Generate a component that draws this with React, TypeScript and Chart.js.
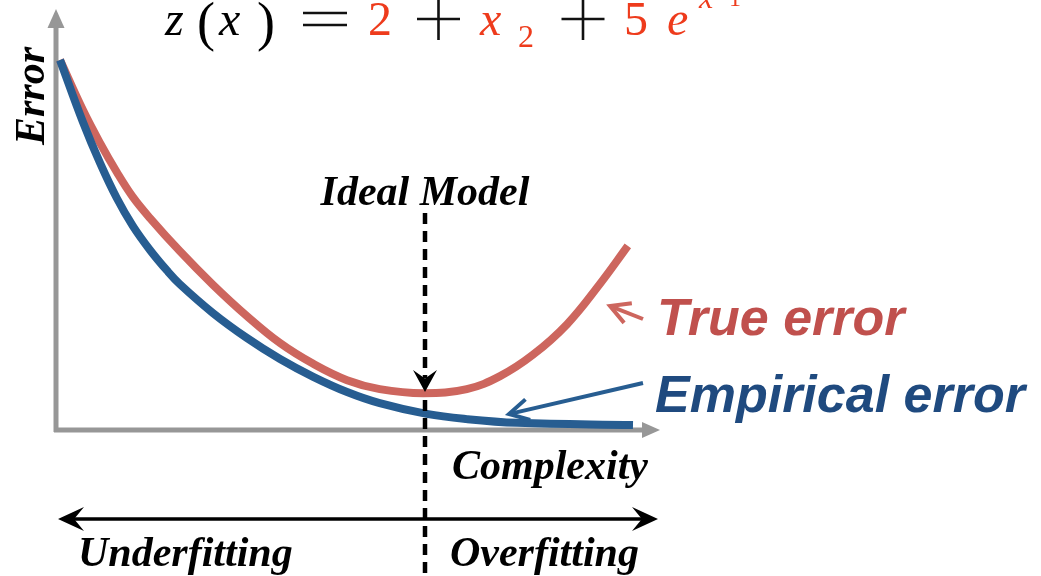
import { useEffect, useRef } from 'react';
import { Chart, registerables } from 'chart.js';

Chart.register(...registerables);

// Complexity (x) and error (y) readings, in arbitrary 0..10 units
const complexityTrue = [0, 0.4, 0.7, 0.99, 1.27, 1.57, 2.09, 2.67, 3.26, 3.84, 4.42, 5.01, 5.58, 6.34, 7.1, 7.68, 8.25, 8.85, 9.42, 9.91];
const trueError = [10, 8.65, 7.76, 6.98, 6.31, 5.74, 4.85, 3.94, 3.1, 2.37, 1.81, 1.37, 1.13, 1.02, 1.13, 1.48, 2.05, 2.88, 3.96, 4.99];
const complexityEmpirical = [0, 0.4, 0.7, 0.99, 1.27, 1.57, 1.87, 2.09, 2.67, 3.26, 3.84, 4.42, 5.01, 5.58, 6.4, 7.1, 7.98, 10];
const empiricalError = [10, 8.33, 7.22, 6.28, 5.53, 4.88, 4.32, 3.96, 3.18, 2.51, 1.94, 1.46, 1.05, 0.75, 0.46, 0.32, 0.22, 0.16];

const idealComplexity = 6.37;
const idealError = 1.05;

const seriesLabels = ['True error', 'Empirical error'];
const axisLabels = { x: 'Complexity', y: 'Error' };
const regionLabels = ['Underfitting', 'Overfitting'];
const idealLabel = 'Ideal Model';

const RED_LINE = '#CD665E';
const BLUE_LINE = '#275D91';
const RED_TEXT = '#C0504D';
const BLUE_TEXT = '#1F4A7F';
const GRAY = '#979797';
const FORMULA_RED = '#EE3B1C';

function stealth(ctx: CanvasRenderingContext2D, x: number, y: number, angle: number, len: number, half: number, color: string) {
  ctx.save();
  ctx.translate(x, y);
  ctx.rotate(angle);
  ctx.beginPath();
  ctx.moveTo(0, 0);
  ctx.lineTo(-len, -half);
  ctx.lineTo(-len * 0.62, 0);
  ctx.lineTo(-len, half);
  ctx.closePath();
  ctx.fillStyle = color;
  ctx.fill();
  ctx.restore();
}

function triangle(ctx: CanvasRenderingContext2D, x: number, y: number, angle: number, len: number, half: number, color: string) {
  ctx.save();
  ctx.translate(x, y);
  ctx.rotate(angle);
  ctx.beginPath();
  ctx.moveTo(0, 0);
  ctx.lineTo(-len, -half);
  ctx.lineTo(-len, half);
  ctx.closePath();
  ctx.fillStyle = color;
  ctx.fill();
  ctx.restore();
}

function openArrow(ctx: CanvasRenderingContext2D, x1: number, y1: number, x2: number, y2: number, color: string, width: number) {
  const a = Math.atan2(y2 - y1, x2 - x1);
  ctx.save();
  ctx.strokeStyle = color;
  ctx.lineWidth = width;
  ctx.lineCap = 'butt';
  ctx.beginPath();
  ctx.moveTo(x1, y1);
  ctx.lineTo(x2 - Math.cos(a) * 3, y2 - Math.sin(a) * 3);
  ctx.stroke();
  const len = 22;
  const spread = 0.5;
  ctx.beginPath();
  ctx.moveTo(x2 - Math.cos(a - spread) * len, y2 - Math.sin(a - spread) * len);
  ctx.lineTo(x2, y2);
  ctx.lineTo(x2 - Math.cos(a + spread) * len, y2 - Math.sin(a + spread) * len);
  ctx.lineJoin = 'miter';
  ctx.stroke();
  ctx.restore();
}

const axesPlugin = {
  id: 'conceptAxes',
  beforeDatasetsDraw(chart: any) {
    const ctx: CanvasRenderingContext2D = chart.ctx;
    const { left, right, top, bottom } = chart.chartArea;
    const ox = left - 4;
    const oy = bottom - 1;
    ctx.save();
    ctx.strokeStyle = GRAY;
    ctx.lineWidth = 5;
    ctx.beginPath();
    ctx.moveTo(ox, oy + 2);
    ctx.lineTo(ox, top - 34);
    ctx.stroke();
    ctx.beginPath();
    ctx.moveTo(ox - 2, oy);
    ctx.lineTo(right + 12, oy);
    ctx.stroke();
    triangle(ctx, ox, top - 51, -Math.PI / 2, 19, 8.5, GRAY);
    triangle(ctx, right + 27, oy, 0, 18, 8, GRAY);
    ctx.restore();
  },
  afterDatasetsDraw(chart: any) {
    const ctx: CanvasRenderingContext2D = chart.ctx;
    const xs = chart.scales.x;
    const ys = chart.scales.y;
    const { left, right, bottom } = chart.chartArea;
    const ix = xs.getPixelForValue(idealComplexity);
    const iy = ys.getPixelForValue(idealError);
    ctx.save();

    // dashed ideal line
    ctx.strokeStyle = '#000';
    ctx.lineWidth = 4.5;
    ctx.setLineDash([11, 7]);
    ctx.beginPath();
    ctx.moveTo(ix, 213);
    ctx.lineTo(ix, iy - 14);
    ctx.stroke();
    ctx.beginPath();
    ctx.moveTo(ix, iy + 8);
    ctx.lineTo(ix, chart.height);
    ctx.stroke();
    ctx.setLineDash([]);
    stealth(ctx, ix, iy, Math.PI / 2, 22, 12, '#000');

    // double arrow under the axis
    const ay = bottom + 88;
    ctx.lineWidth = 3.5;
    ctx.beginPath();
    ctx.moveTo(left + 10, ay);
    ctx.lineTo(right + 14, ay);
    ctx.stroke();
    stealth(ctx, left - 2, ay, Math.PI, 26, 12, '#000');
    stealth(ctx, right + 25, ay, 0, 26, 12, '#000');

    // pointer arrows
    openArrow(ctx, 643, 319, 610, 306, RED_LINE, 4);
    openArrow(ctx, 643, 383, 509, 414, BLUE_LINE, 4);

    // texts
    ctx.fillStyle = '#000';
    ctx.textBaseline = 'alphabetic';
    ctx.font = 'bold italic 42px "Liberation Serif", "Times New Roman", serif';
    ctx.textAlign = 'center';
    ctx.fillText(idealLabel, ix, 205);
    ctx.textAlign = 'left';
    ctx.fillText(axisLabels.x, 452, 479);
    ctx.fillText(regionLabels[0], 78, 566);
    ctx.fillText(regionLabels[1], 450, 566);
    ctx.save();
    ctx.translate(44, 96);
    ctx.rotate(-Math.PI / 2);
    ctx.textAlign = 'center';
    ctx.fillText(axisLabels.y, 0, 0);
    ctx.restore();

    ctx.font = 'bold italic 52px "Liberation Sans", Arial, sans-serif';
    ctx.fillStyle = RED_TEXT;
    ctx.fillText(seriesLabels[0], 657, 335);
    ctx.fillStyle = BLUE_TEXT;
    ctx.fillText(seriesLabels[1], 655, 412);

    // formula (cut off at the top of the picture)
    const serif = '"Liberation Serif", "Times New Roman", serif';
    const pieces: [string, number, number, string, string][] = [
      ['z', 165, 35, '#000', `italic 48px ${serif}`],
      ['(', 197, 40, '#000', `54px ${serif}`],
      ['x', 219, 35, '#000', `italic 48px ${serif}`],
      [')', 257, 40, '#000', `54px ${serif}`],
      ['2', 368, 35, FORMULA_RED, `48px ${serif}`],
      ['x', 480, 35, FORMULA_RED, `italic 48px ${serif}`],
      ['2', 518, 47, FORMULA_RED, `32px ${serif}`],
      ['5', 624, 35, FORMULA_RED, `48px ${serif}`],
      ['e', 667, 35, FORMULA_RED, `italic 48px ${serif}`],
      ['x', 699, 8, FORMULA_RED, `italic 32px ${serif}`],
      ['1', 729, 6, FORMULA_RED, `24px ${serif}`],
    ];
    ctx.textAlign = 'left';
    for (const [t, x, y, c, f] of pieces) {
      ctx.font = f;
      ctx.fillStyle = c;
      ctx.fillText(t, x, y);
    }
    // "=" and "+" signs drawn as thin strokes
    ctx.strokeStyle = '#111';
    ctx.lineWidth = 2.6;
    ctx.beginPath();
    ctx.moveTo(303, 13); ctx.lineTo(347, 13);
    ctx.moveTo(303, 25); ctx.lineTo(347, 25);
    for (const cx of [438.5, 583]) {
      ctx.moveTo(cx - 21.5, 19); ctx.lineTo(cx + 21.5, 19);
      ctx.moveTo(cx, -2); ctx.lineTo(cx, 40);
    }
    ctx.stroke();
    ctx.restore();
  },
};

export default function App() {
  const ref = useRef<HTMLCanvasElement | null>(null);
  useEffect(() => {
    if (!ref.current) return;
    const chart = new Chart(ref.current, {
      type: 'line',
      data: {
        datasets: [
          {
            label: seriesLabels[1],
            data: complexityEmpirical.map((x, i) => ({ x, y: empiricalError[i] })),
            borderColor: BLUE_LINE,
            borderWidth: 8,
            pointRadius: 0,
            tension: 0.4,
            clip: false as any,
            fill: false,
          },
          {
            label: seriesLabels[0],
            data: complexityTrue.map((x, i) => ({ x, y: trueError[i] })),
            borderColor: RED_LINE,
            borderWidth: 8,
            pointRadius: 0,
            tension: 0.4,
            clip: false as any,
            fill: false,
          },
        ],
      },
      options: {
        animation: false,
        responsive: true,
        maintainAspectRatio: false,
        layout: { padding: { left: 60, right: 408, top: 60, bottom: 145 } },
        scales: {
          x: { type: 'linear', min: 0, max: 10, display: false },
          y: { type: 'linear', min: 0, max: 10, display: false },
        },
        plugins: { legend: { display: false }, tooltip: { enabled: false } },
        events: [],
      },
      plugins: [axesPlugin],
    });
    return () => chart.destroy();
  }, []);
  return (
    <div style={{ position: 'absolute', left: 0, top: 0, width: 1041, height: 576, background: '#fff' }}>
      <canvas ref={ref} />
    </div>
  );
}
